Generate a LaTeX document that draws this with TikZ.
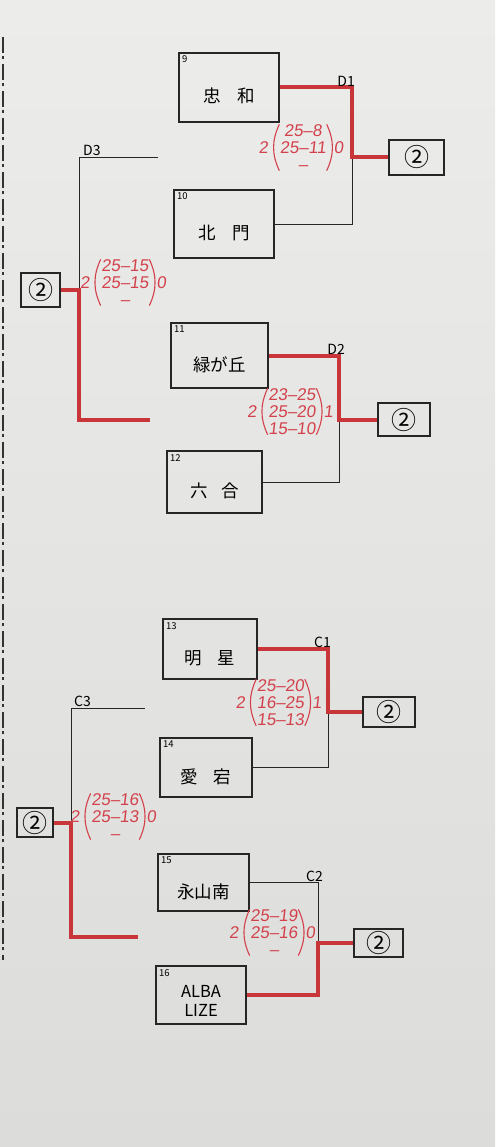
\documentclass[tikz,border=0pt]{standalone}
\usepackage{fontspec}
\setmainfont{Noto Sans CJK JP}
\newfontfamily\handfont[FakeSlant=0.12]{Liberation Sans}
\usetikzlibrary{positioning}
\definecolor{paperlight}{HTML}{ECECEA}
\definecolor{paperdark}{HTML}{DCDCDA}
\definecolor{marker}{HTML}{C8363A}
\definecolor{ink}{HTML}{D3424C}

\begin{document}
\begin{tikzpicture}[x=1pt, y=-1pt,
  team/.style={draw=black!85, line width=2.2pt, text height=35pt, text depth=4pt, font=\fontsize{17.5}{20}\selectfont},
  num/.style={anchor=north west, inner sep=4pt, font=\fontsize{9.5}{10}\selectfont},
  result/.style={draw=black!85, line width=2.2pt, inner sep=1pt, font=\fontsize{25}{25}\selectfont},
  rnd/.style={inner sep=1pt, font=\fontsize{14}{14}\selectfont},
  lose/.style={line width=0.8pt, draw=black!85},
  win/.style={line width=4pt, draw=marker},
  score/.style={text=ink, font=\handfont\fontsize{17}{17}\selectfont, align=center, inner xsep=0.5pt, inner ysep=0pt},
  paren/.style={draw=ink, line width=1.1pt},
  sets/.style={text=ink, inner sep=1pt, font=\handfont\fontsize{17}{17}\selectfont}
]
\shade[top color=paperlight, bottom color=paperdark] (0,0) rectangle (495,1147);
\useasboundingbox (0,0) rectangle (495,1147);
\draw[black!80, line width=1.3pt, dash pattern=on 16pt off 3pt on 3pt off 5pt] (3,37) -- (3,960);

% D block
\node[team, minimum width=100pt, minimum height=69pt, label={[num]north west:9}] (t9) at (229,87.5) {忠\hspace{0.95em}和};
\node[team, minimum width=100pt, minimum height=68pt, label={[num]north west:10}] (t10) at (224,224) {北\hspace{0.95em}門};
\node[team, minimum width=97pt, minimum height=65pt, label={[num]north west:11}] (t11) at (219.5,355.5) {緑が丘};
\node[team, minimum width=95pt, minimum height=62pt, label={[num]north west:12}] (t12) at (214.5,482) {六\hspace{0.8em}合};

\node[result, minimum width=55pt, minimum height=35pt] (wd1) at (416.5,157.5) {②};
\node[result, minimum width=52pt, minimum height=33pt] (wd2) at (404,419.5) {②};
\node[result, minimum width=39pt, minimum height=34pt] (wd3) at (40.5,290) {②};

\coordinate (d1) at (352,157.5);
\coordinate (d2) at (339,419.5);
\coordinate (d3) at (79,290);
\coordinate (d3in) at (158,157);
\coordinate (d3end) at (150,420);

\draw[lose] (t10.east) -| (d1);
\draw[win] (t9.east) -| (d1) -- (wd1.west);
\draw[lose] (t12.east) -| (d2);
\draw[win] (t11.east) -| (d2) -- (wd2.west);
\draw[lose] (d3in) -| (d3);
\draw[win] (wd3.east) -- (d3) |- (d3end);

\node[rnd, anchor=south east, xshift=4pt] at (d1 |- t9.east) {D1};
\node[rnd, anchor=south east, xshift=7pt] at (d2 |- t11.east) {D2};
\node[rnd, anchor=south west, xshift=2pt] at (80,157) {D3};

\node[score] (sd1) at (303,147.5) {25–8\\25–11\\–};
\node[sets, left=10pt of sd1] {2};
\node[sets, right=6pt of sd1] {0};
\node[score] (sd2) at (292,411.5) {23–25\\25–20\\15–10};
\node[sets, left=10pt of sd2] {2};
\node[sets, right=6pt of sd2] {1};
\node[score] (sd3) at (125,282.5) {25–15\\25–15\\–};
\node[sets, left=10pt of sd3] {2};
\node[sets, right=6pt of sd3] {0};

% C block
\node[team, minimum width=94pt, minimum height=60pt, label={[num]north west:13}] (t13) at (210,649) {明\hspace{0.9em}星};
\node[team, minimum width=92pt, minimum height=59pt, label={[num]north west:14}] (t14) at (206,767.5) {愛\hspace{0.9em}宕};
\node[team, minimum width=91pt, minimum height=57pt, label={[num]north west:15}] (t15) at (203.5,882.5) {永山南};
\node[team, minimum width=90pt, minimum height=58pt, text height=30pt, font=\fontsize{16.5}{19}\selectfont, label={[num]north west:16}] (t16) at (201,995) {\begin{tabular}{@{}c@{}}ALBA\\LIZE\end{tabular}};

\node[result, minimum width=52pt, minimum height=30pt] (wc1) at (389,712) {②};
\node[result, minimum width=49pt, minimum height=28pt] (wc2) at (378.5,943) {②};
\node[result, minimum width=36pt, minimum height=29pt] (wc3) at (35,822.5) {②};

\coordinate (c1) at (328,712);
\coordinate (c2) at (318,943);
\coordinate (c3) at (71,822.5);
\coordinate (c3in) at (145,708);
\coordinate (c3end) at (138,937);

\draw[lose] (t14.east) -| (c1);
\draw[win] (t13.east) -| (c1) -- (wc1.west);
\draw[lose] (t15.east) -| (c2);
\draw[win] (t16.east) -| (c2) -- (wc2.west);
\draw[lose] (c3in) -| (c3);
\draw[win] (wc3.east) -- (c3) |- (c3end);

\node[rnd, anchor=south east, xshift=4pt] at (c1 |- t13.east) {C1};
\node[rnd, anchor=south east, xshift=6pt] at (c2 |- t15.east) {C2};
\node[rnd, anchor=south west, xshift=1pt] at (72,708) {C3};

\node[score] (sc1) at (280.5,702.5) {25–20\\16–25\\15–13};
\node[sets, left=10pt of sc1] {2};
\node[sets, right=6pt of sc1] {1};
\node[score] (sc2) at (274,932.5) {25–19\\25–16\\–};
\node[sets, left=10pt of sc2] {2};
\node[sets, right=6pt of sc2] {0};
\node[score] (sc3) at (115,816.5) {25–16\\25–13\\–};
\node[sets, left=10pt of sc3] {2};
\node[sets, right=6pt of sc3] {0};

\foreach \s in {sd1,sd2,sd3,sc1,sc2,sc3} {
  \draw[paren] (\s.north west) to[bend right=25] (\s.south west);
  \draw[paren] (\s.north east) to[bend left=25] (\s.south east);
}
\end{tikzpicture}
\end{document}
